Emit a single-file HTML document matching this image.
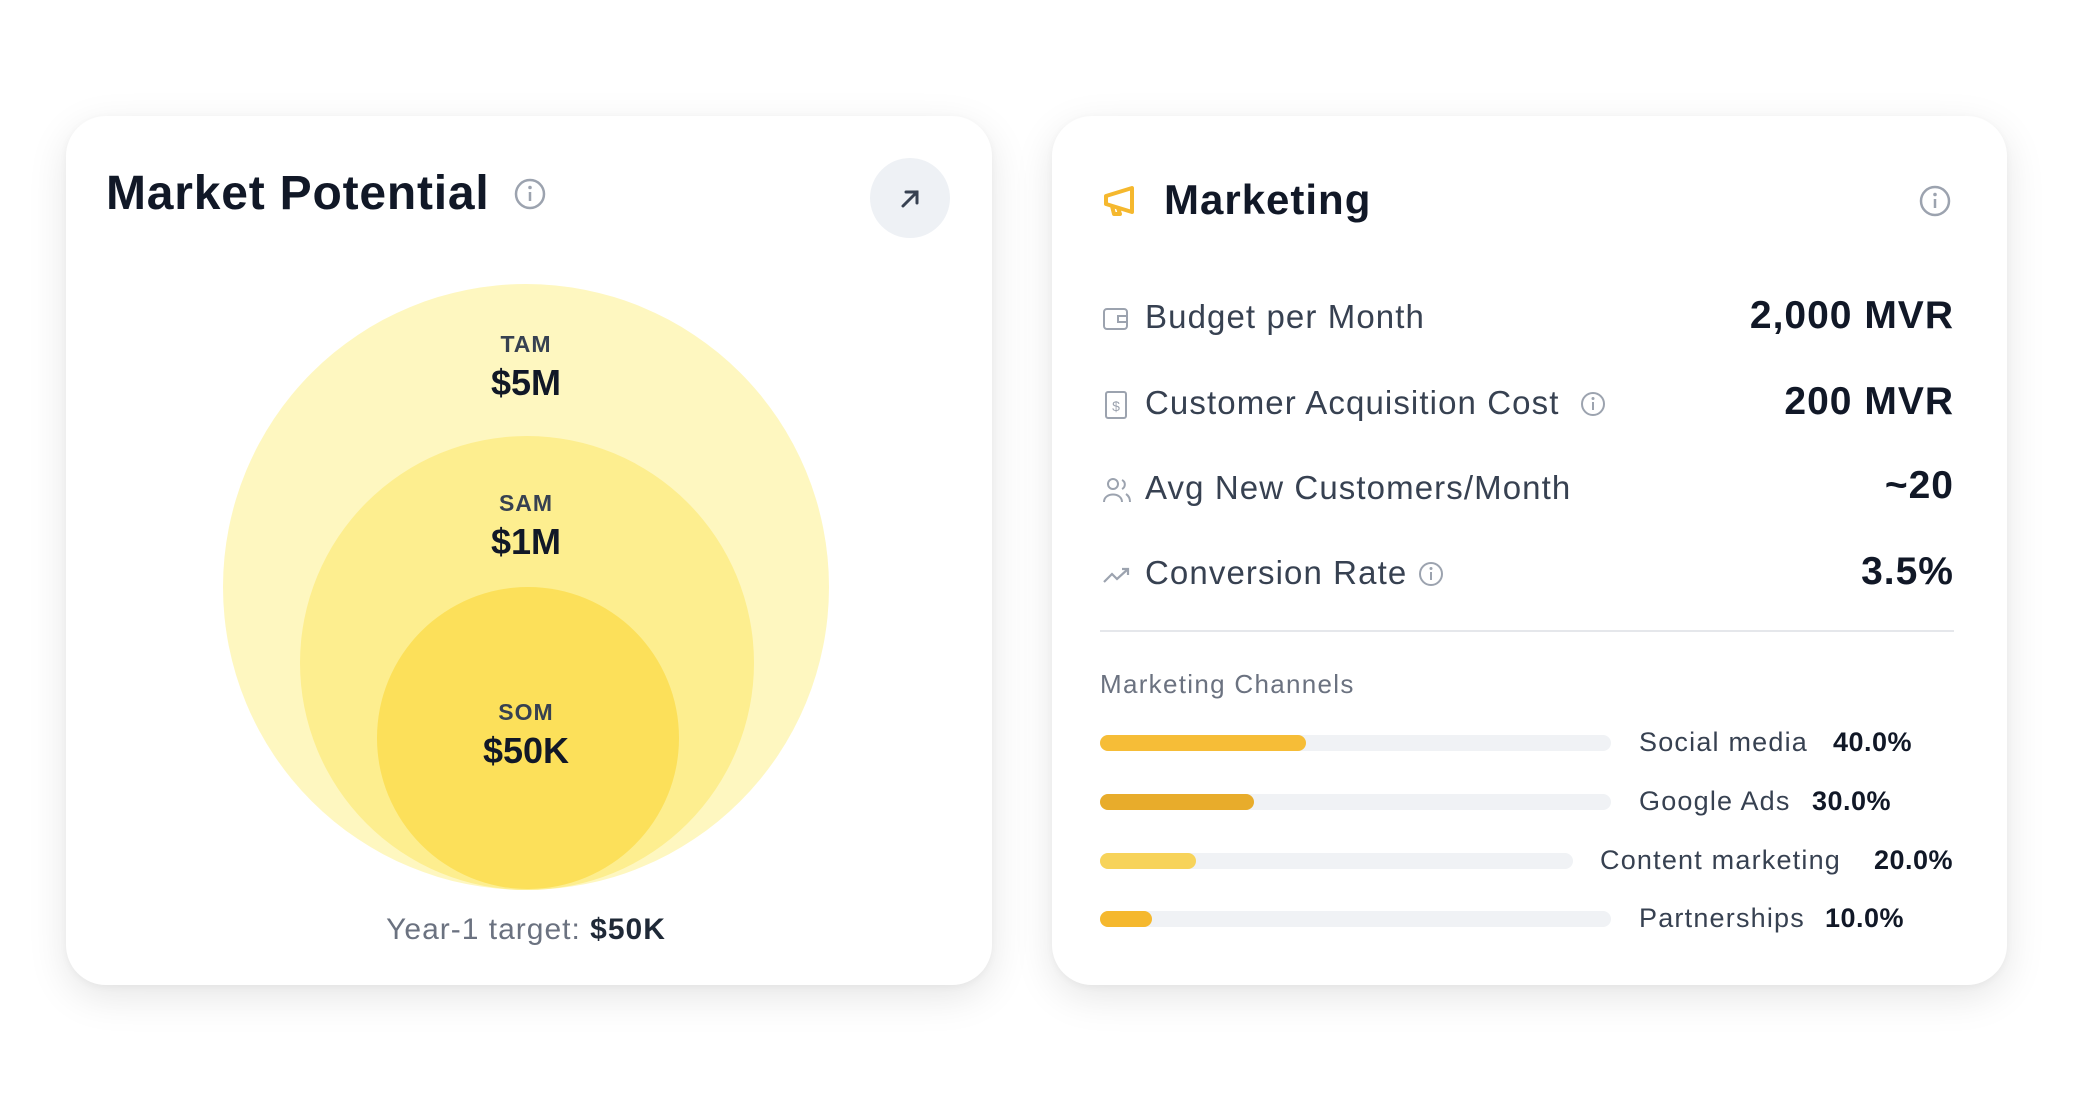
<!DOCTYPE html>
<html><head><meta charset="utf-8"><style>
*{margin:0;padding:0;box-sizing:border-box}
body{width:2074px;height:1102px;background:#fff;font-family:"Liberation Sans",sans-serif;position:relative;overflow:hidden;color:#111827}
.card{position:absolute;background:#fff;border-radius:40px;box-shadow:0 12px 40px rgba(0,0,0,0.10),0 2px 8px rgba(0,0,0,0.04)}
.a{position:absolute;white-space:nowrap}
.lbl{font-size:33px;color:#374151;letter-spacing:1.1px}
.val{font-size:39px;font-weight:bold;color:#111827;right:120px;letter-spacing:1px}
.ch{font-size:27px;color:#374151;letter-spacing:1.2px}
.pc{font-size:27px;font-weight:bold;color:#111827;letter-spacing:0.5px}
.track{position:absolute;height:16px;border-radius:8px;background:#f0f2f5}
.fill{position:absolute;left:0;top:0;height:16px;border-radius:8px}
</style></head><body>
<div class="card" style="left:66px;top:116px;width:926px;height:869px"></div>
<div class="card" style="left:1052px;top:116px;width:955px;height:869px"></div>

<div class="a" style="left:106px;top:166px;font-size:48px;font-weight:bold;color:#111827;letter-spacing:0.8px">Market Potential</div>
<svg class="a" style="left:513px;top:177px" width="34" height="34"><circle cx="17" cy="17" r="14" fill="none" stroke="#9ca3af" stroke-width="2.5"/><line x1="17" y1="15" x2="17" y2="24" stroke="#9ca3af" stroke-width="2.5"/><circle cx="17" cy="10.5" r="1.8" fill="#9ca3af"/></svg>
<svg class="a" style="left:870px;top:158px" width="80" height="80"><circle cx="40" cy="40" r="40" fill="#eef1f5"/><path d="M33 48 L47 34 M36 34 H47 V45" stroke="#374151" stroke-width="3" fill="none" stroke-linecap="round"/></svg>

<svg class="a" style="left:0;top:0" width="1040" height="1000">
<circle cx="526" cy="587" r="303" fill="#fef7c0"/>
<circle cx="527" cy="663" r="227" fill="#fdee8f"/>
<circle cx="528" cy="738" r="151" fill="#fce05a"/>
</svg>
<div class="a" style="left:426px;width:200px;text-align:center;top:331px;font-size:23px;font-weight:bold;color:#374151;letter-spacing:1px">TAM</div>
<div class="a" style="left:426px;width:200px;text-align:center;top:362px;font-size:36px;font-weight:bold">$5M</div>
<div class="a" style="left:426px;width:200px;text-align:center;top:490px;font-size:23px;font-weight:bold;color:#374151;letter-spacing:1px">SAM</div>
<div class="a" style="left:426px;width:200px;text-align:center;top:521px;font-size:36px;font-weight:bold">$1M</div>
<div class="a" style="left:426px;width:200px;text-align:center;top:699px;font-size:23px;font-weight:bold;color:#374151;letter-spacing:1px">SOM</div>
<div class="a" style="left:426px;width:200px;text-align:center;top:730px;font-size:36px;font-weight:bold">$50K</div>
<div class="a" style="left:276px;width:500px;text-align:center;top:913px;font-size:30px;color:#6b7280;letter-spacing:1px">Year-1 target: <b style="color:#1f2937">$50K</b></div>

<svg class="a" style="left:1102px;top:184px" width="42" height="34"><path d="M4 12 L30 4 V28 L4 20 Z M10 22 L12 30 H18 L16 24" fill="none" stroke="#f5b82e" stroke-width="4" stroke-linejoin="round"/></svg>
<div class="a" style="left:1164px;top:176px;font-size:42px;font-weight:bold;letter-spacing:1px">Marketing</div>
<svg class="a" style="left:1918px;top:184px" width="34" height="34"><circle cx="17" cy="17" r="14" fill="none" stroke="#9ca3af" stroke-width="2.5"/><line x1="17" y1="15" x2="17" y2="24" stroke="#9ca3af" stroke-width="2.5"/><circle cx="17" cy="10.5" r="1.8" fill="#9ca3af"/></svg>

<svg class="a" style="left:1102px;top:305px" width="28" height="28"><rect x="2" y="4" width="23" height="20" rx="3" fill="none" stroke="#9ca3af" stroke-width="2"/><path d="M16 11 H25 V17 H16 Z" fill="none" stroke="#9ca3af" stroke-width="2"/></svg>
<div class="a lbl" style="left:1145px;top:298px">Budget per Month</div>
<div class="a val" style="top:294px">2,000 MVR</div>

<svg class="a" style="left:1104px;top:390px" width="24" height="30"><rect x="2" y="2" width="20" height="26" rx="2" fill="none" stroke="#9ca3af" stroke-width="2"/><text x="12" y="21" font-size="14" text-anchor="middle" fill="#9ca3af" font-family="Liberation Sans">$</text></svg>
<div class="a lbl" style="left:1145px;top:384px">Customer Acquisition Cost</div>
<svg class="a" style="left:1580px;top:391px" width="26" height="26"><circle cx="13" cy="13" r="11" fill="none" stroke="#9ca3af" stroke-width="2"/><line x1="13" y1="11" x2="13" y2="19" stroke="#9ca3af" stroke-width="2"/><circle cx="13" cy="7.5" r="1.5" fill="#9ca3af"/></svg>
<div class="a val" style="top:380px">200 MVR</div>

<svg class="a" style="left:1102px;top:476px" width="30" height="28"><circle cx="11" cy="8" r="5" fill="none" stroke="#9ca3af" stroke-width="2"/><path d="M2 26 C2 16 20 16 20 26" fill="none" stroke="#9ca3af" stroke-width="2"/><path d="M20 4 A5 5 0 0 1 20 13 M24 18 C27 20 28 23 28 26" fill="none" stroke="#9ca3af" stroke-width="2"/></svg>
<div class="a lbl" style="left:1145px;top:469px">Avg New Customers/Month</div>
<div class="a val" style="top:464px">~20</div>

<svg class="a" style="left:1102px;top:564px" width="30" height="22"><path d="M2 18 L10 10 L15 15 L26 5 M20 5 H26 V11" fill="none" stroke="#9ca3af" stroke-width="2.2"/></svg>
<div class="a lbl" style="left:1145px;top:554px">Conversion Rate</div>
<svg class="a" style="left:1418px;top:561px" width="26" height="26"><circle cx="13" cy="13" r="11" fill="none" stroke="#9ca3af" stroke-width="2"/><line x1="13" y1="11" x2="13" y2="19" stroke="#9ca3af" stroke-width="2"/><circle cx="13" cy="7.5" r="1.5" fill="#9ca3af"/></svg>
<div class="a val" style="top:550px">3.5%</div>

<div class="a" style="left:1100px;top:630px;width:854px;height:2px;background:#e5e7eb"></div>
<div class="a" style="left:1100px;top:669px;font-size:26px;color:#6b7280;letter-spacing:1.3px">Marketing Channels</div>

<div class="track" style="left:1100px;top:735px;width:511px"><div class="fill" style="width:206px;background:#f6bd37"></div></div>
<div class="a ch" style="left:1639px;top:727px">Social media</div><div class="a pc" style="left:1833px;top:727px">40.0%</div>
<div class="track" style="left:1100px;top:794px;width:511px"><div class="fill" style="width:154px;background:#e8ac2b"></div></div>
<div class="a ch" style="left:1639px;top:786px">Google Ads</div><div class="a pc" style="left:1812px;top:786px">30.0%</div>
<div class="track" style="left:1100px;top:853px;width:473px"><div class="fill" style="width:96px;background:#f7d35a"></div></div>
<div class="a ch" style="left:1600px;top:845px">Content marketing</div><div class="a pc" style="left:1874px;top:845px">20.0%</div>
<div class="track" style="left:1100px;top:911px;width:511px"><div class="fill" style="width:52px;background:#f5b82e"></div></div>
<div class="a ch" style="left:1639px;top:903px">Partnerships</div><div class="a pc" style="left:1825px;top:903px">10.0%</div>
</body></html>
